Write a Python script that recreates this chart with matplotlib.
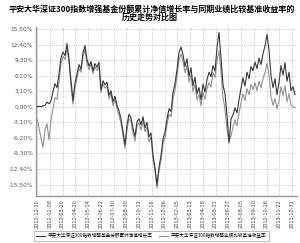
import matplotlib
matplotlib.use('Agg')
import matplotlib.pyplot as plt
import numpy as np

plt.rcParams['font.family'] = ['Noto Sans CJK SC', 'DejaVu Sans']

title1 = '平安大华深证300指数增强基金份额累计净值增长率与同期业绩比较基准收益率的'
title2 = '历史走势对比图'
name_fund = '平安大华深证300指数增强基金份额累计净值增长率'
name_bench = '平安大华深证300指数增强业绩比较基准收益率'

date_labels = ['2011-12-30', '2012-02-08', '2012-03-20', '2012-04-20', '2012-05-14',
               '2012-06-22', '2012-07-30', '2012-08-30', '2012-10-11', '2012-11-16',
               '2012-12-26', '2013-02-05', '2013-03-15', '2013-04-18', '2013-05-21',
               '2013-06-27', '2013-08-05', '2013-09-10', '2013-10-16', '2013-11-22',
               '2013-12-31']

y_ticks = [15.5, 12.4, 9.3, 6.2, 3.1, 0.0, -3.1, -6.2, -9.3, -12.4, -15.5]

# cumulative return of the fund (%)
fund = [0.0, 0.1, 0.0, 0.2, 0.3, 0.9, 0.6, 1.2, 3.0, 4.6,
        3.8, 6.5, 9.8, 10.9, 10.2, 12.6, 9.5, 5.2, 1.2, 4.8,
        6.6, 8.4, 7.5, 10.8, 12.2, 9.4, 8.1, 9.0, 7.2, 8.6,
        7.9, 8.9, 3.4, 5.2, 4.4, 4.9, 2.3, 3.2, 1.0, 2.1,
        0.4, -0.8, -2.4, -4.9, -7.6, -3.6, -1.5, -2.2, -4.3, -5.9,
        -3.0, -2.4, -3.6, -2.0, -4.2, -3.1, -6.0, -5.2, -9.6, -12.1,
        -15.6, -12.0, -9.8, -6.4, -5.1, -2.5, -0.4, -0.9, 2.8, 4.6,
        7.4, 10.8, 11.9, 10.4, 8.0, 9.6, 6.1, 7.8, 4.2, 5.9,
        2.6, 3.8, 1.4, 4.5, 2.9, 5.4, 6.9, 6.0, 8.2, 7.1,
        11.8, 14.8, 9.8, 4.4, 2.6, -1.8, -7.2, -2.5, -1.6, -0.2,
        -1.2, 1.4, 3.6, 5.8, 4.1, 6.9, 5.6, 8.0, 7.2, 8.9,
        7.6, 9.7, 8.4, 10.6, 12.1, 14.4, 11.3, 6.2, 3.8, 5.6,
        2.4, 4.8, 8.2, 6.3, 8.8, 5.1, 6.9, 3.2, 4.0, 2.4]

# benchmark return (%)
bench = [-2.4, -4.1, -6.3, -8.1, -4.6, -3.4, -6.6, -2.6, -0.4, 1.8,
         1.5, 4.9, 8.6, 10.1, 9.4, 11.8, 8.9, 4.2, 0.5, 3.9,
         5.8, 7.6, 6.9, 10.0, 11.5, 8.6, 7.4, 8.5, 6.6, 8.0,
         7.2, 8.1, 2.8, 4.6, 3.7, 4.2, 1.6, 2.6, 0.2, 1.4,
         -0.4, -1.7, -3.3, -5.9, -8.3, -4.6, -2.4, -3.0, -5.2, -6.8,
         -3.9, -3.2, -4.6, -2.8, -5.0, -4.1, -7.0, -6.1, -10.5, -12.9,
         -16.2, -12.8, -10.7, -7.3, -6.2, -3.6, -1.5, -2.0, 1.6, 3.4,
         6.1, 9.4, 10.5, 9.1, 6.8, 8.2, 4.9, 6.5, 3.0, 4.5,
         1.4, 2.4, 0.2, 2.9, 1.5, 3.6, 4.8, 3.9, 6.8, 5.8,
         9.1, 11.2, 7.0, 1.8, -0.4, -4.4, -6.8, -5.8, -4.0, -2.6,
         -3.8, -1.2, 0.8, 2.6, 1.2, 3.6, 2.4, 4.5, 3.4, 4.8,
         3.2, 5.1, 3.8, 5.6, 6.8, 8.6, 6.4, 2.0, 0.3, 1.6,
         -0.4, 1.2, 4.0, 2.2, 4.2, 1.0, 2.6, 0.4, 0.0, -0.2]


def main():
	fig = plt.figure(figsize=(3.0, 2.43), dpi=100)
	ax = fig.add_axes([0.12, 0.193, 0.87, 0.696])

	x = list(range(len(fund)))
	ax.plot(x, bench, color='#929292', lw=0.8, label=name_bench, zorder=2)
	ax.plot(x, fund, color='#383838', lw=0.8, label=name_fund, zorder=3)

	tick_pos = np.linspace(0, 127.5, len(date_labels))
	ax.set_xticks(tick_pos)
	ax.set_xticklabels(date_labels, rotation=90, fontsize=3.6, color='#444444',
	                   family='DejaVu Sans')
	ax.set_xlim(-0.5, 130)

	ax.set_yticks(y_ticks)
	ax.set_yticklabels(['%.2f%%' % v for v in y_ticks], fontsize=4.2, color='#555555',
	                   family='DejaVu Sans')
	ax.set_ylim(-17.8, 15.9)

	ax.grid(True, color='#b0b0b0', linestyle=':', lw=0.6)
	ax.tick_params(length=0, pad=2)
	for side in ['top', 'right']:
		ax.spines[side].set_visible(False)
	for side in ['left', 'bottom']:
		ax.spines[side].set_color('#999999')
		ax.spines[side].set_linewidth(1.0)

	fig.text(0.507, 0.962, title1, ha='center', va='center', fontsize=5.8, weight='bold')
	fig.text(0.5, 0.927, title2, ha='center', va='center', fontsize=5.8, weight='bold')

	h, l = ax.get_legend_handles_labels()
	leg = fig.legend(h[::-1], l[::-1], loc='lower left', bbox_to_anchor=(0.105, 0.0),
	                 ncol=2, fontsize=3.3, frameon=True, fancybox=False,
	                 handlelength=2.0, columnspacing=1.5, borderpad=0.5, handletextpad=0.5)
	leg.get_frame().set_edgecolor('#888888')
	leg.get_frame().set_linewidth(0.5)

	plt.savefig('out.png', dpi=100)
	return


if __name__ == '__main__':
	main()
